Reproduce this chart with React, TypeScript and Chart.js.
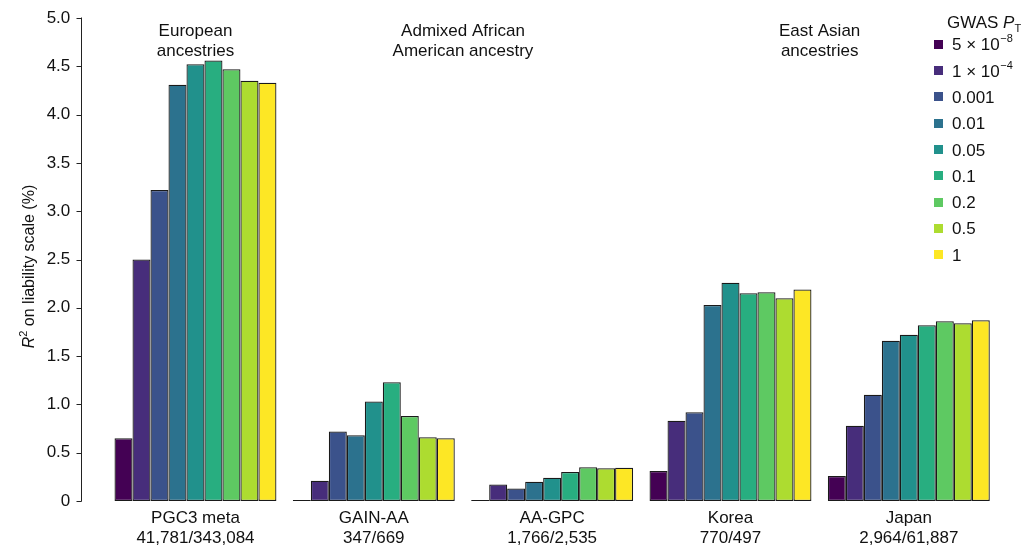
import React, { useEffect, useRef } from "react";
import { Chart, registerables } from "chart.js";

Chart.register(...registerables);

const cohorts: string[][] = [
  ["PGC3 meta", "41,781/343,084"],
  ["GAIN-AA", "347/669"],
  ["AA-GPC", "1,766/2,535"],
  ["Korea", "770/497"],
  ["Japan", "2,964/61,887"],
];

const thresholds = ["5 × 10^−8", "1 × 10^−4", "0.001", "0.01", "0.05", "0.1", "0.2", "0.5", "1"];

const colors = ["#440154", "#472d7b", "#3b528b", "#2c728e", "#21918c", "#28ae80", "#5ec962", "#addc30", "#fde725"];

// values per threshold, across cohorts [PGC3, GAIN-AA, AA-GPC, Korea, Japan]
const p5e8 = [0.65, 0.01, 0.01, 0.31, 0.26];
const p1e4 = [2.5, 0.21, 0.17, 0.83, 0.78];
const p001 = [3.22, 0.72, 0.13, 0.92, 1.1];
const p01 = [4.31, 0.68, 0.2, 2.03, 1.66];
const p05 = [4.52, 1.03, 0.24, 2.26, 1.72];
const p1 = [4.56, 1.23, 0.3, 2.15, 1.82];
const p2 = [4.47, 0.88, 0.35, 2.16, 1.86];
const p5 = [4.35, 0.66, 0.34, 2.1, 1.84];
const pAll = [4.33, 0.65, 0.345, 2.19, 1.87];

const seriesValues = [p5e8, p1e4, p001, p01, p05, p1, p2, p5, pAll];

const yTicks = [0, 0.5, 1, 1.5, 2, 2.5, 3, 3.5, 4, 4.5, 5];

const ancestryHeaders: { pos: number; lines: string[] }[] = [
  { pos: 0, lines: ["European", "ancestries"] },
  { pos: 1.5, lines: ["Admixed African", "American ancestry"] },
  { pos: 3.5, lines: ["East Asian", "ancestries"] },
];

const FONT = "'Liberation Sans', Arial, Helvetica, sans-serif";
const TEXT = "#111";

const decorPlugin = {
  id: "decor",
  afterDraw(chart: any) {
    const ctx = chart.ctx as CanvasRenderingContext2D;
    const area = chart.chartArea;
    const ys = chart.scales.y;
    const xs = chart.scales.x;
    ctx.save();

    // y axis line and ticks, offset from the plot area
    const ax = Math.round(area.left - 25.5) + 0.5;
    ctx.strokeStyle = "#222";
    ctx.lineWidth = 1;
    ctx.beginPath();
    ctx.moveTo(ax, ys.getPixelForValue(0) + 0.5);
    ctx.lineTo(ax, ys.getPixelForValue(5) - 0.5);
    for (const t of yTicks) {
      const py = Math.round(ys.getPixelForValue(t)) + 0.5;
      ctx.moveTo(ax - 5, py);
      ctx.lineTo(ax, py);
    }
    ctx.stroke();

    // y title with italic R and superscript 2
    ctx.save();
    ctx.translate(30, (area.top + area.bottom) / 2 + 7);
    ctx.rotate(-Math.PI / 2);
    ctx.fillStyle = TEXT;
    ctx.textBaseline = "middle";
    const f1 = `italic 16px ${FONT}`;
    const f2 = `11px ${FONT}`;
    const f3 = `16px ${FONT}`;
    const rest = " on liability scale (%)";
    ctx.font = f1;
    const wR = ctx.measureText("R").width;
    ctx.font = f2;
    const w2 = ctx.measureText("2").width;
    ctx.font = f3;
    const wRest = ctx.measureText(rest).width;
    let cx = -(wR + w2 + wRest) / 2;
    ctx.textAlign = "left";
    ctx.font = f1;
    ctx.fillText("R", cx, 0);
    cx += wR;
    ctx.font = f2;
    ctx.fillText("2", cx, -6);
    cx += w2;
    ctx.font = f3;
    ctx.fillText(rest, cx, 0);
    ctx.restore();

    // ancestry headers
    ctx.fillStyle = TEXT;
    ctx.font = `17px ${FONT}`;
    ctx.textAlign = "center";
    ctx.textBaseline = "alphabetic";
    for (const h of ancestryHeaders) {
      const px = xs.getPixelForValue(h.pos);
      h.lines.forEach((l, i) => ctx.fillText(l, px, 35.5 + i * 20.5));
    }

    // legend
    const lx = 934;
    const ly0 = 44.3;
    const step = 26.3;
    ctx.textAlign = "left";
    ctx.textBaseline = "alphabetic";
    ctx.font = `17px ${FONT}`;
    let tx = 947;
    ctx.fillText("GWAS ", tx, 28);
    tx += ctx.measureText("GWAS ").width;
    ctx.font = `italic 17px ${FONT}`;
    ctx.fillText("P", tx, 28);
    tx += ctx.measureText("P").width;
    ctx.font = `11px ${FONT}`;
    ctx.fillText("T", tx, 32);

    chart.data.datasets.forEach((ds: any, i: number) => {
      const cy = ly0 + i * step;
      ctx.fillStyle = ds.backgroundColor;
      ctx.fillRect(lx, Math.round(cy - 4.5), 9, 9);
      ctx.fillStyle = TEXT;
      const parts = String(ds.label).split("^");
      let px = 952;
      const base = cy + 6;
      ctx.font = `17px ${FONT}`;
      ctx.fillText(parts[0], px, base);
      px += ctx.measureText(parts[0]).width;
      if (parts[1]) {
        ctx.font = `11px ${FONT}`;
        ctx.fillText(parts[1], px + 0.5, base - 8);
      }
    });

    ctx.restore();
  },
};

export default function App() {
  const ref = useRef<HTMLCanvasElement | null>(null);

  useEffect(() => {
    if (!ref.current) return;
    const chart = new Chart(ref.current, {
      type: "bar",
      data: {
        labels: cohorts,
        datasets: thresholds.map((t, i) => ({
          label: t,
          data: seriesValues[i],
          backgroundColor: colors[i],
          borderColor: "#1a1a1a",
          borderWidth: 1.25,
          borderSkipped: false,
          categoryPercentage: 0.908,
          barPercentage: 1.0,
        })),
      },
      options: {
        animation: false,
        responsive: true,
        maintainAspectRatio: false,
        layout: { padding: { top: 18, right: 26, left: 0, bottom: 0 } },
        plugins: {
          legend: { display: false },
          tooltip: { enabled: false },
        },
        scales: {
          x: {
            grid: { display: false, drawTicks: false },
            border: { display: false },
            ticks: {
              padding: 7.5,
              color: TEXT,
              font: { family: FONT, size: 17, lineHeight: 1.18 },
              maxRotation: 0,
              autoSkip: false,
            },
            afterFit: (s: any) => {
              s.height = 46;
              s.paddingLeft = 0;
              s.paddingRight = 0;
            },
          },
          y: {
            min: 0,
            max: 5,
            grid: { display: false, drawTicks: false },
            border: { display: false },
            afterBuildTicks: (s: any) => {
              s.ticks = yTicks.map((v) => ({ value: v }));
            },
            ticks: {
              padding: 36,
              color: TEXT,
              font: { family: FONT, size: 17 },
              callback: (v: any) => (Number(v) === 0 ? "0" : Number(v).toFixed(1)),
            },
            afterFit: (s: any) => {
              s.width = 106.3;
              s.paddingTop = 0;
              s.paddingBottom = 0;
            },
          },
        },
      },
      plugins: [decorPlugin],
    });
    return () => chart.destroy();
  }, []);

  return (
    <div style={{ position: "fixed", left: 0, top: 0, width: 1024, height: 547, background: "#fff" }}>
      <canvas ref={ref} />
    </div>
  );
}
